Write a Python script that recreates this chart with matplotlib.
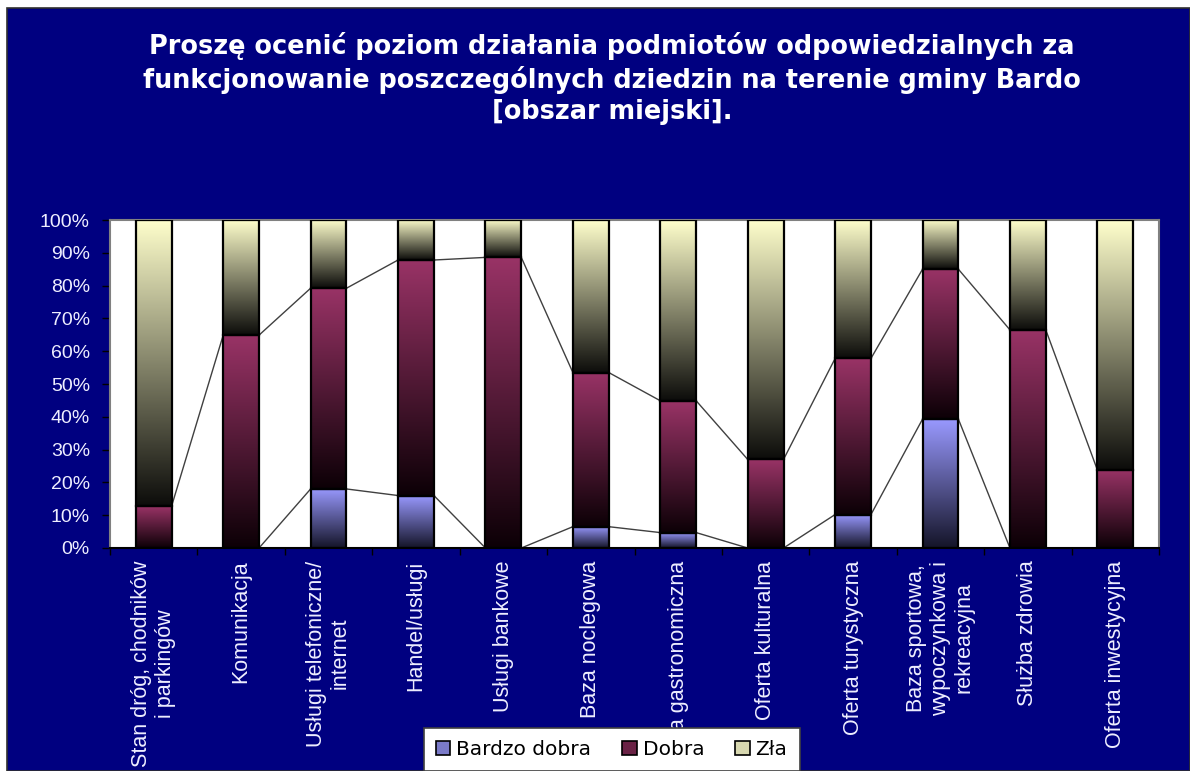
import matplotlib
matplotlib.use("Agg")
import matplotlib.pyplot as plt
import numpy as np
from matplotlib.colors import LinearSegmentedColormap
from matplotlib.patches import Patch, Rectangle

plt.rcParams['font.family'] = ['Liberation Sans', 'DejaVu Sans']

# ---- data ----
categories = [
    "Stan dróg, chodników\ni parkingów",
    "Komunikacja",
    "Usługi telefoniczne/\ninternet",
    "Handel/usługi",
    "Usługi bankowe",
    "Baza noclegowa",
    "Baza gastronomiczna",
    "Oferta kulturalna",
    "Oferta turystyczna",
    "Baza sportowa,\nwypoczynkowa i\nrekreacyjna",
    "Służba zdrowia",
    "Oferta inwestycyjna",
]
series_names = ["Bardzo dobra", "Dobra", "Zła"]
bardzo_dobra = [0.0, 0.0, 18.0, 16.0, 0.0, 6.5, 4.7, 0.0, 10.2, 39.3, 0.0, 0.0]
dobra = [12.8, 64.9, 61.2, 71.8, 88.6, 47.0, 40.2, 27.0, 47.6, 45.7, 66.5, 23.8]
zla = [87.2, 35.1, 20.8, 12.2, 11.4, 46.5, 55.1, 73.0, 42.2, 15.0, 33.5, 76.2]
yticklabels = ["0%", "10%", "20%", "30%", "40%", "50%", "60%", "70%", "80%", "90%", "100%"]
title = ("Proszę ocenić poziom działania podmiotów odpowiedzialnych za\n"
         "funkcjonowanie poszczególnych dziedzin na terenie gminy Bardo\n"
         "[obszar miejski].")

top_colors = ["#9999FF", "#993366", "#FFFFCC"]
bottom_colors = ["#141428", "#0c0006", "#0c0c0a"]
legend_colors = ["#7a7ac8", "#6a2245", "#d8d8b0"]

W, H = 1190, 771
fig = plt.figure(figsize=(W / 100, H / 100), dpi=100)
fig.patch.set_facecolor("white")
# navy chart area
fig.add_artist(Rectangle((7 / W, 0), 1 - 7 / W, 1 - 8 / H, transform=fig.transFigure,
                         facecolor="#000080", edgecolor="#303030", linewidth=1.2, zorder=0))

ax = fig.add_axes([110 / W, 1 - 548 / H, (1159 - 110) / W, (548 - 220) / H])
ax.set_facecolor("white")

x = np.arange(len(categories))
bw = 0.41
data = [np.array(bardzo_dobra), np.array(dobra), np.array(zla)]
bottom = np.zeros(len(categories))
grad = np.linspace(0, 1, 256).reshape(-1, 1)
tops = []
for s, vals in enumerate(data):
    cmap = LinearSegmentedColormap.from_list("g%d" % s, [bottom_colors[s], top_colors[s]])
    bars = ax.bar(x, vals, bw, bottom=bottom, facecolor="none", edgecolor="black",
                  linewidth=1.6, zorder=3)
    for b in bars:
        if b.get_height() <= 0:
            b.set_visible(False)
            continue
        x0, y0 = b.get_x(), b.get_y()
        ax.imshow(grad, cmap=cmap, origin="lower", aspect="auto", interpolation="bilinear",
                  extent=(x0, x0 + b.get_width(), y0, y0 + b.get_height()), zorder=2)
    bottom = bottom + vals
    tops.append(bottom.copy())

# series lines
for t in tops[:2]:
    for i in range(len(categories) - 1):
        ax.plot([x[i] + bw / 2, x[i + 1] - bw / 2], [t[i], t[i + 1]], color="#404040",
                linewidth=1.0, zorder=1.5)

ax.set_xlim(-0.5, len(categories) - 0.5)
ax.set_ylim(0, 100)
ax.set_yticks(np.arange(0, 101, 10))
ax.set_yticklabels(yticklabels, color="#EEEEFF", fontsize=14)
ax.tick_params(axis="y", length=5.5, width=1, color="black", pad=9)

ax.set_xticks(x)
ax.set_xticklabels(categories, rotation=90, color="#EEEEFF", fontsize=15.5,
                   va="top", ha="center", multialignment="center", linespacing=1.18)
ax.tick_params(axis="x", length=0, pad=9)
# category boundary ticks
ax.set_xticks(np.arange(-0.5, len(categories) + 0.5, 1), minor=True)
ax.tick_params(axis="x", which="minor", length=5, width=1, color="black")

for side in ["top", "right", "left"]:
    ax.spines[side].set_color("#808080")
    ax.spines[side].set_linewidth(1.5)
ax.spines["bottom"].set_color("black")
ax.spines["bottom"].set_linewidth(1.5)

fig.text(612 / W, 1 - 32 / H, title, ha="center", va="top", color="white",
         fontsize=18.4, fontweight="bold", linespacing=1.26,
         family=["DejaVu Sans"])

handles = [Patch(facecolor=legend_colors[i], edgecolor="black", linewidth=1.2, label=series_names[i])
           for i in range(3)]
leg = fig.legend(handles=handles, loc="upper left", bbox_to_anchor=(424 / W, 1 - 728 / H),
                 ncol=3, frameon=True, fancybox=False, handlelength=0.7,
                 handleheight=0.7, handletextpad=0.3, columnspacing=1.55, borderpad=0.6,
                 borderaxespad=0, framealpha=1, prop={"family": ["DejaVu Sans"], "size": 14.5})
leg.get_frame().set_edgecolor("#404040")
leg.get_frame().set_facecolor("white")
leg.get_frame().set_linewidth(1.2)
leg.set_zorder(10)

fig.savefig("out.png", dpi=100, facecolor=fig.get_facecolor())
